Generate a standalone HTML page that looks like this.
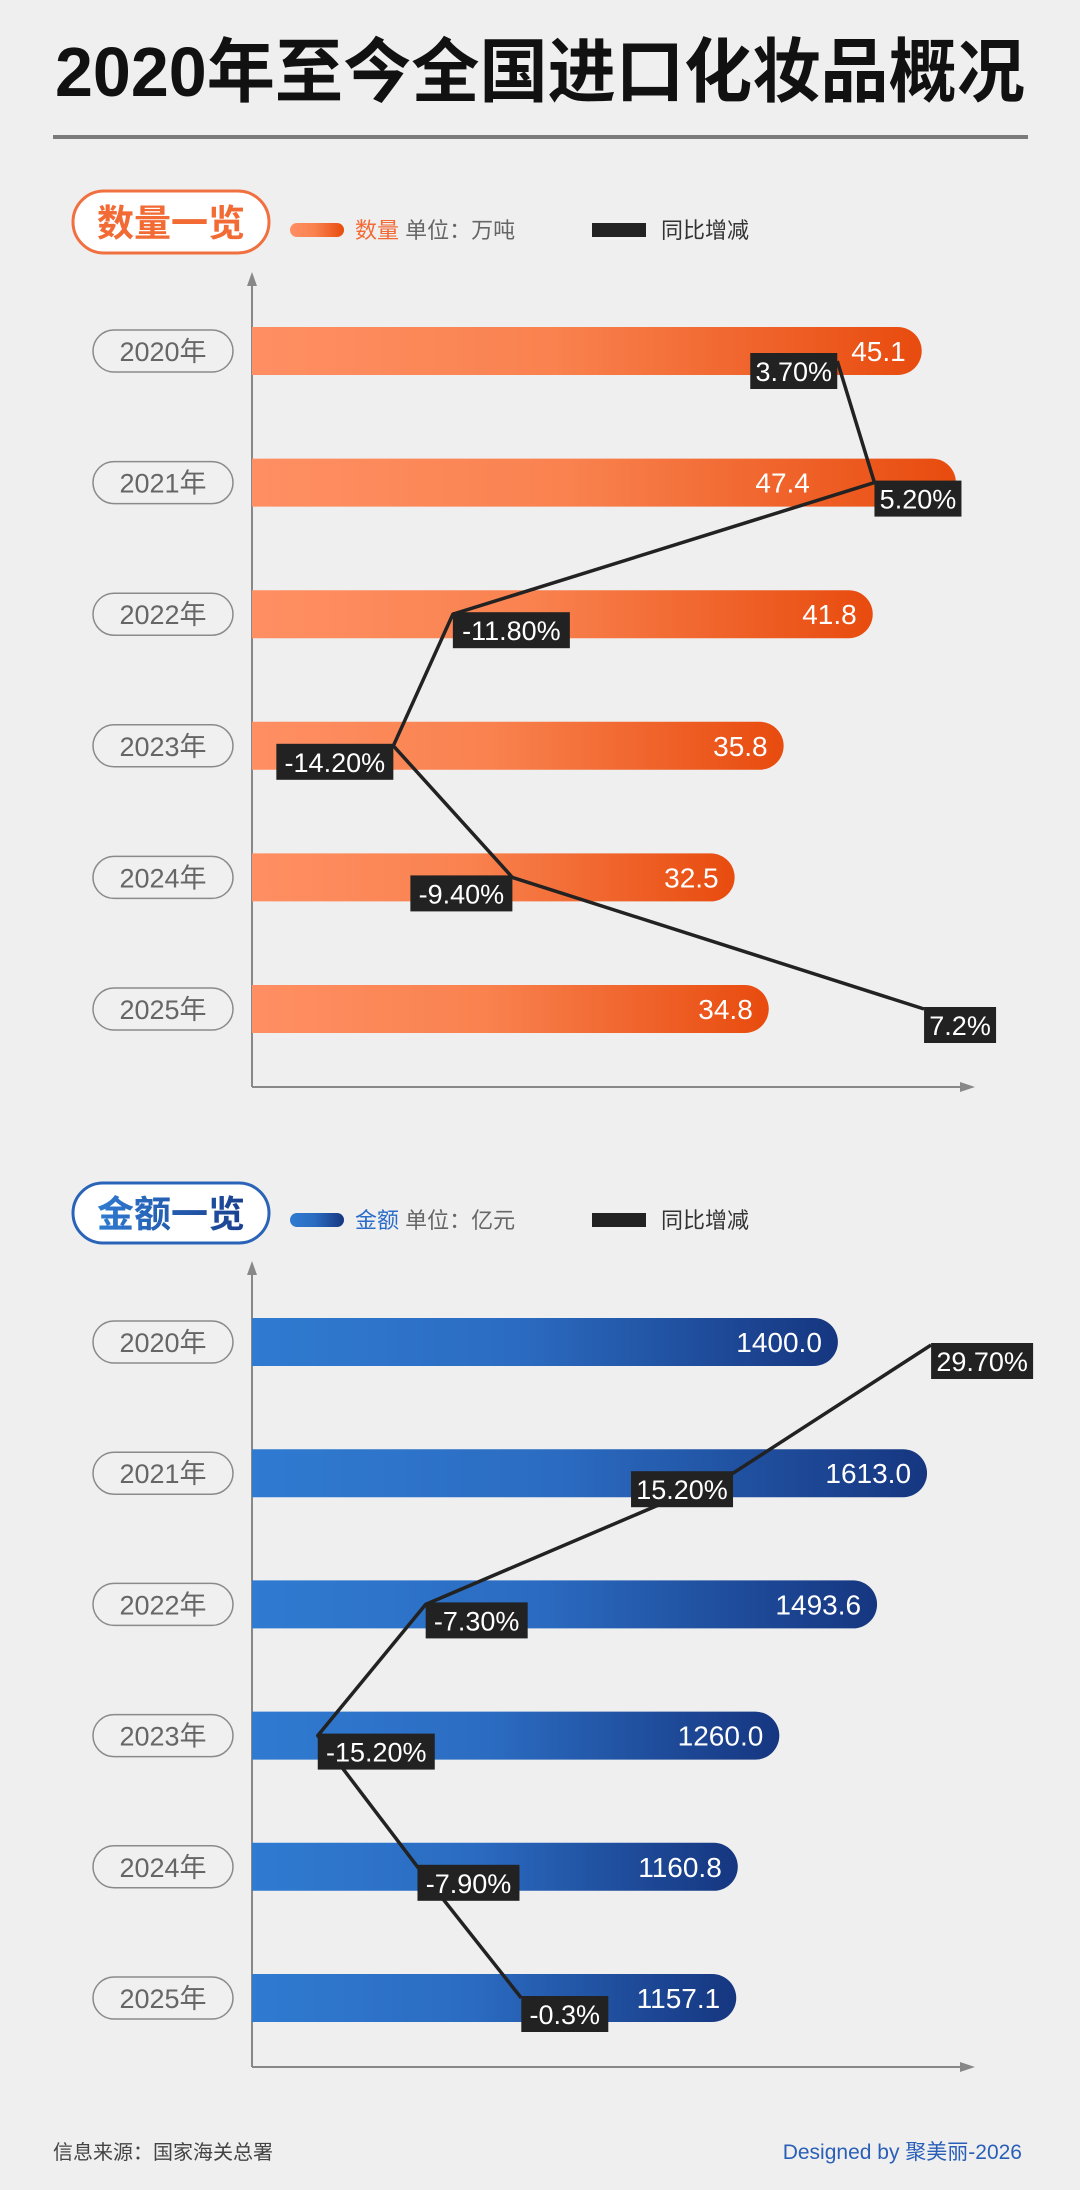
<!DOCTYPE html>
<html><head><meta charset="utf-8">
<style>
html,body{margin:0;padding:0;background:#efefef;}
body{width:1080px;height:2185px;overflow:hidden;font-family:"Liberation Sans","Noto Sans CJK SC",sans-serif;}
svg text{font-family:"Liberation Sans","Noto Sans CJK SC",sans-serif;}
</style></head>
<body>
<svg id="page" width="1080" height="2185" viewBox="0 0 1080 2185" xmlns="http://www.w3.org/2000/svg">
<defs>
<linearGradient id="og" x1="0" x2="1" y1="0" y2="0"><stop offset="0" stop-color="#ff8f63"/><stop offset="0.45" stop-color="#f9824f"/><stop offset="1" stop-color="#e84b0e"/></linearGradient>
<linearGradient id="bg" x1="0" x2="1" y1="0" y2="0"><stop offset="0" stop-color="#2f7bd1"/><stop offset="0.45" stop-color="#2b6cc2"/><stop offset="1" stop-color="#163680"/></linearGradient>
<linearGradient id="btxt" x1="0" x2="1"><stop offset="0" stop-color="#2f7bd1"/><stop offset="1" stop-color="#1a3f8f"/></linearGradient>
</defs>
<text x="540" y="96" text-anchor="middle" font-size="70" font-weight="bold" fill="#111" textLength="970" lengthAdjust="spacingAndGlyphs">2020年至今全国进口化妆品概况</text>
<rect x="53" y="135" width="975" height="4" fill="#7a7a7a"/>

<g>
<rect x="73" y="191" width="196" height="62" rx="31" fill="#fff" stroke="#f07040" stroke-width="3"/>
<text x="171" y="236" text-anchor="middle" font-size="37" font-weight="bold" fill="#f26a34">数量一览</text>
<rect x="290" y="223" width="54" height="14" rx="7" fill="url(#og)"/>
<text x="355" y="238" font-size="22" fill="#f26a34">数量 <tspan fill="#666">单位：万吨</tspan></text>
<rect x="592" y="223" width="54" height="14" fill="#222"/>
<text x="661" y="238" font-size="22" fill="#333">同比增减</text>
</g>

<g>
<rect x="73" y="1183" width="196" height="60" rx="30" fill="#fff" stroke="#2a64b8" stroke-width="3"/>
<text x="171" y="1227" text-anchor="middle" font-size="37" font-weight="bold" fill="url(#btxt)">金额一览</text>
<rect x="290" y="1213" width="54" height="14" rx="7" fill="url(#bg)"/>
<text x="355" y="1228" font-size="22" fill="#2a6cc8">金额 <tspan fill="#666">单位：亿元</tspan></text>
<rect x="592" y="1213" width="54" height="14" fill="#222"/>
<text x="661" y="1228" font-size="22" fill="#333">同比增减</text>
</g>

<g id="chart1"></g>
<g id="chart2"></g>

<text x="53" y="2159" font-size="20" fill="#444">信息来源：国家海关总署</text>
<text x="1022" y="2159" text-anchor="end" font-size="21" fill="#2a5fb8">Designed by 聚美丽-2026</text>
</svg>
<script>
const years = ["2020年","2021年","2022年","2023年","2024年","2025年"];
const qtyValues = [45.1, 47.4, 41.8, 35.8, 32.5, 34.8];
const qtyYoy = [3.7, 5.2, -11.8, -14.2, -9.4, 7.2];
const qtyYoyLabels = ["3.70%","5.20%","-11.80%","-14.20%","-9.40%","7.2%"];
const qtyLabelSide = ["L","R","R","L","L","R"];
const qtyValueShift = [0, 130, 0, 0, 0, 0];
const amtValues = [1400.0, 1613.0, 1493.6, 1260.0, 1160.8, 1157.1];
const amtYoy = [29.7, 15.2, -7.3, -15.2, -7.9, -0.3];
const amtYoyLabels = ["29.70%","15.20%","-7.30%","-15.20%","-7.90%","-0.3%"];
const amtLabelSide = ["R","L","R","R","R","R"];
const amtValueShift = [0, 0, 0, 0, 0, 0];

const NS = "http://www.w3.org/2000/svg";
function mk(parent, tag, attrs){const e=document.createElementNS(NS,tag);for(const k in attrs)e.setAttribute(k,attrs[k]);parent.appendChild(e);return e;}

function drawChart(g, cfg){
  const x0=252;
  const xBar=v=>x0+v*cfg.barK;
  const xLine=v=>cfg.lineC+v*cfg.lineK;
  const yRow=i=>cfg.row0+i*cfg.rowStep;
  const ya=mk(g,"line",{x1:x0,y1:cfg.axisTop+12,x2:x0,y2:cfg.axisBottom,stroke:"#888","stroke-width":2});
  
  
  const yarr=mk(g,"path",{d:`M${x0-5},${cfg.axisTop+14} L${x0},${cfg.axisTop} L${x0+5},${cfg.axisTop+14} Z`,fill:"#888"});
  
  
  const xa=mk(g,"line",{x1:x0,y1:cfg.axisBottom,x2:962,y2:cfg.axisBottom,stroke:"#888","stroke-width":2});
  
  
  const xarr=mk(g,"path",{d:`M960,${cfg.axisBottom-5} L975,${cfg.axisBottom} L960,${cfg.axisBottom+5} Z`,fill:"#888"});
  
  
  for(let i=0;i<years.length;i++){
    const y=yRow(i);
    const pill=mk(g,"rect",{x:93,y:y-21,width:140,height:42,rx:21,fill:"#f0f0f0",stroke:"#8a8a8a","stroke-width":1.5});
    
    
    const t=mk(g,"text",{x:163,y:y+10,"text-anchor":"middle","font-size":27,fill:"#666"});
    t.textContent=years[i];
    
    
    const xe=xBar(cfg.values[i]);
    const bar=mk(g,"path",{d:`M${x0},${y-24} H${xe-24} A24,24 0 0 1 ${xe-24},${y+24} H${x0} Z`,fill:cfg.fill});
    
    
    const vt=mk(g,"text",{x:xe-16-cfg.shift[i],y:y+10,"text-anchor":"end","font-size":28,fill:"#fff"});
    vt.textContent=cfg.values[i].toFixed(1);
    
    
  }
  const pts=cfg.yoy.map((v,i)=>[xLine(v),yRow(i)+(i===0?cfg.firstOff:0)]);
  const pl=mk(g,"polyline",{points:pts.map(p=>p.join(",")).join(" "),fill:"none",stroke:"#222","stroke-width":3.5,"stroke-linejoin":"round"});
  
  
  for(let i=0;i<pts.length;i++){
    const [px,py]=pts[i];
    const w=cfg.labels[i].length*15+12;
    const bx=cfg.sides[i]==="L"?px-w:px;
    const by=i===0&&cfg.firstCenter?py-6:py;
    const r=mk(g,"rect",{x:bx,y:by-2,width:w,height:36,fill:"#222"});
    
    
    const t=mk(g,"text",{x:bx+w/2,y:by+26,"text-anchor":"middle","font-size":27,fill:"#fff"});
    t.textContent=cfg.labels[i];
    
    
  }
}
drawChart(document.getElementById("chart1"),{values:qtyValues,yoy:qtyYoy,labels:qtyYoyLabels,sides:qtyLabelSide,shift:qtyValueShift,barK:14.85,lineC:745.5,lineK:24.8,row0:351,rowStep:131.6,axisTop:272,axisBottom:1087,fill:"url(#og)",firstOff:10,firstCenter:true});
drawChart(document.getElementById("chart2"),{values:amtValues,yoy:amtYoy,labels:amtYoyLabels,sides:amtLabelSide,shift:amtValueShift,barK:0.4185,lineC:525.4,lineK:13.66,row0:1342,rowStep:131.2,axisTop:1261,axisBottom:2067,fill:"url(#bg)",firstOff:3,firstCenter:false});
</script>
</body></html>
